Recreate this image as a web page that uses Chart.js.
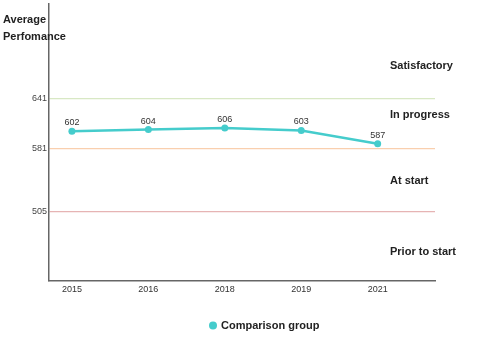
<!DOCTYPE html>
<html><head><meta charset="utf-8">
<script src="https://cdn.jsdelivr.net/npm/chart.js@4/dist/chart.umd.min.js"></script>
<style>html,body{margin:0;padding:0;background:#fff}#wrap{width:480px;height:345px}</style>
</head><body><div id="wrap"><canvas id="c"></canvas></div>
<script>
const years = ['2015','2016','2018','2019','2021'];
const comparison = [602, 604, 606, 603, 587];
const seriesName = 'Comparison group';
const yTickValues = [505, 581, 641];
const yTickColors = ['#e6b4b4', '#f9cfae', '#d8e8c4'];
const zoneLabels = ['Satisfactory', 'In progress', 'At start', 'Prior to start'];
const zoneValues = [680, 621, 542, 457];
const yTitle = ['Average', 'Perfomance'];

const FONT = '"Liberation Sans", Arial, sans-serif';
const teal = '#45cccc';

const extras = {
  id: 'extras',
  afterDatasetsDraw(chart) {
    const {ctx, chartArea, scales} = chart;
    ctx.save();
    // data labels
    const meta = chart.getDatasetMeta(0);
    ctx.font = '9px ' + FONT;
    ctx.fillStyle = '#333';
    ctx.textAlign = 'center';
    ctx.textBaseline = 'bottom';
    meta.data.forEach((pt, i) => {
      ctx.fillText(String(comparison[i]), pt.x, pt.y - 4);
    });
    // zone labels
    ctx.font = 'bold 11px ' + FONT;
    ctx.fillStyle = '#222';
    ctx.textAlign = 'left';
    ctx.textBaseline = 'middle';
    zoneLabels.forEach((t, i) => {
      ctx.fillText(t, chartArea.right - 45, scales.y.getPixelForValue(zoneValues[i]));
    });
    // y title
    ctx.fillText(yTitle[0], 3, 20);
    ctx.fillText(yTitle[1], 3, 37);
    // legend
    const ds = chart.data.datasets[0];
    ctx.fillStyle = ds.backgroundColor;
    ctx.beginPath();
    ctx.arc(213, 325.5, 4, 0, Math.PI * 2);
    ctx.fill();
    ctx.fillStyle = '#222';
    ctx.fillText(ds.label, 221, 325.5);
    ctx.restore();
  }
};

new Chart(document.getElementById('c'), {
  type: 'line',
  data: {
    datasets: [{
      label: seriesName,
      data: comparison.map((v, i) => ({x: i, y: v})),
      borderColor: teal,
      backgroundColor: teal,
      borderWidth: 2.5,
      pointRadius: 3.5,
      pointBorderWidth: 0,
      pointBackgroundColor: teal,
      tension: 0
    }]
  },
  options: {
    responsive: true,
    maintainAspectRatio: false,
    animation: false,
    layout: {padding: {top: 3, right: 45, left: 0, bottom: 34}},
    plugins: {
      tooltip: {enabled: false},
      legend: {display: false}
    },
    scales: {
      x: {
        type: 'linear',
        min: -0.3,
        max: 4.75,
        afterBuildTicks(scale) { scale.ticks = years.map((_, i) => ({value: i})); },
        afterFit(scale) { scale.height = 30; scale.paddingLeft = 0; scale.paddingRight = 0; },
        ticks: {
          callback: (v) => years[v],
          font: {family: FONT, size: 9},
          color: '#333',
          padding: 3,
          maxRotation: 0,
          autoSkip: false
        },
        grid: {display: false, drawTicks: false},
        border: {display: true, color: '#666', width: 1.5}
      },
      y: {
        min: 422,
        max: 755,
        afterBuildTicks(scale) { scale.ticks = yTickValues.map(v => ({value: v})); },
        afterFit(scale) { scale.width = 49; scale.paddingTop = 0; scale.paddingBottom = 0; },
        ticks: {
          font: {family: FONT, size: 9},
          color: '#444',
          padding: 2
        },
        grid: {
          drawTicks: false,
          lineWidth: 1.2,
          color: (c) => {
            const idx = yTickValues.indexOf(c.tick && c.tick.value);
            return idx >= 0 ? yTickColors[idx] : 'rgba(0,0,0,0)';
          }
        },
        border: {display: true, color: '#666', width: 1.5}
      }
    }
  },
  plugins: [extras]
});
</script>
</body></html>
